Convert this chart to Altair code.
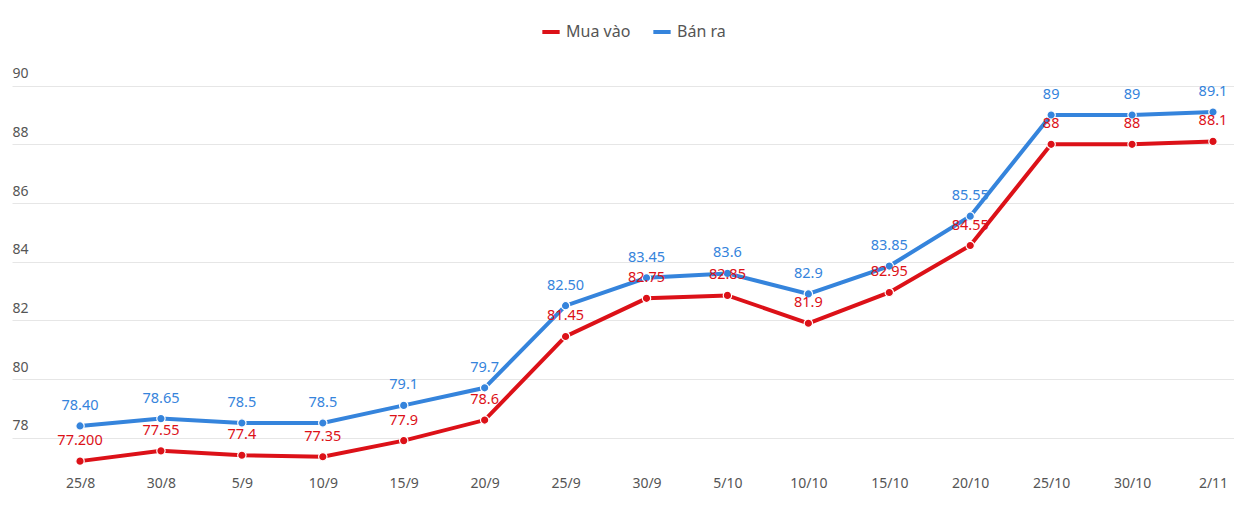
import altair as alt
import pandas as pd

dates = ["25/8", "30/8", "5/9", "10/9", "15/9", "20/9", "25/9", "30/9", "5/10",
         "10/10", "15/10", "20/10", "25/10", "30/10", "2/11"]
mua_vao = [77.2, 77.55, 77.4, 77.35, 77.9, 78.6, 81.45, 82.75, 82.85, 81.9, 82.95,
           84.55, 88, 88, 88.1]
mua_vao_labels = ["77.200", "77.55", "77.4", "77.35", "77.9", "78.6", "81.45", "82.75",
                  "82.85", "81.9", "82.95", "84.55", "88", "88", "88.1"]
ban_ra = [78.4, 78.65, 78.5, 78.5, 79.1, 79.7, 82.5, 83.45, 83.6, 82.9, 83.85, 85.55,
          89, 89, 89.1]
ban_ra_labels = ["78.40", "78.65", "78.5", "78.5", "79.1", "79.7", "82.50", "83.45",
                 "83.6", "82.9", "83.85", "85.55", "89", "89", "89.1"]
series = ["Mua vào", "Bán ra"]
colors = ["#dc1118", "#3584dc"]

rows = []
for name, vals, labs in [(series[0], mua_vao, mua_vao_labels), (series[1], ban_ra, ban_ra_labels)]:
    for d, v, l in zip(dates, vals, labs):
        rows.append({"date": d, "value": v, "label": l, "series": name})
df = pd.DataFrame(rows)

FONT = "Noto Sans"

x = alt.X("date:O", sort=dates, title=None,
          scale=alt.Scale(type="point", padding=0.55, align=0.764),
          axis=alt.Axis(labelAngle=0, ticks=False, domain=False, grid=False,
                        labelFontSize=14, labelColor="#555555", labelFont=FONT,
                        labelPadding=9))
y = alt.Y("value:Q", title=None,
          scale=alt.Scale(domain=[77, 90.5], nice=False, zero=False),
          axis=alt.Axis(values=[78, 80, 82, 84, 86, 88, 90], ticks=False, domain=False,
                        grid=True, gridColor="#e6e6e6", gridWidth=1,
                        labelAlign="left", labelBaseline="bottom", labelPadding=0,
                        labelOffset=-5, labelFontSize=14, labelColor="#555555",
                        labelFont=FONT))
color = alt.Color("series:N", sort=series,
                  scale=alt.Scale(domain=series, range=colors),
                  legend=alt.Legend(title=None, orient="none", direction="horizontal",
                                    legendX=528, legendY=-50, symbolType="stroke",
                                    symbolStrokeWidth=4, symbolSize=300,
                                    labelFontSize=16, labelColor="#555555",
                                    labelFont=FONT, columnPadding=14))

base = alt.Chart(df).encode(x=x, y=y, color=color, detail="series:N")

lines = base.mark_line(strokeWidth=4)
points = base.mark_point(filled=True, size=70, opacity=1, stroke="white",
                         strokeWidth=1.2)
labels = base.mark_text(dy=-20, fontSize=14.5, font=FONT).encode(text="label:N")

chart = alt.layer(lines, points, labels).properties(
    width=1222, height=396,
    autosize=alt.AutoSizeParams(type="none"),
    padding={"left": 4, "top": 63, "right": 0, "bottom": 40},
).configure(background="white").configure_view(strokeWidth=0, stroke="transparent")

chart.save("out.html", embed_options={"renderer": "svg", "actions": False})
